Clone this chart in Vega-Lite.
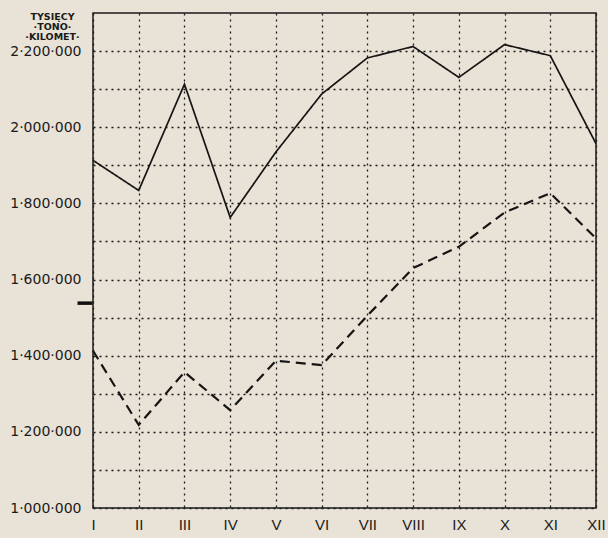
{
  "$schema": "https://vega.github.io/schema/vega-lite/v6.json",
  "width": 503,
  "height": 495,
  "autosize": "none",
  "padding": {"left": 93, "top": 13, "right": 12, "bottom": 30},
  "background": "#e9e2d6",
  "config": {
    "view": {"stroke": "#1a1a1a", "strokeWidth": 1.5},
    "font": "Liberation Sans"
  },
  "layer": [
    {
      "data": {
        "values": [
          {"month": "I", "series": "A", "value": 1913000},
          {"month": "II", "series": "A", "value": 1834000},
          {"month": "III", "series": "A", "value": 2113000},
          {"month": "IV", "series": "A", "value": 1763000},
          {"month": "V", "series": "A", "value": 1935000},
          {"month": "VI", "series": "A", "value": 2087000},
          {"month": "VII", "series": "A", "value": 2182000},
          {"month": "VIII", "series": "A", "value": 2212000},
          {"month": "IX", "series": "A", "value": 2131000},
          {"month": "X", "series": "A", "value": 2217000},
          {"month": "XI", "series": "A", "value": 2188000},
          {"month": "XII", "series": "A", "value": 1957000},
          {"month": "I", "series": "B", "value": 1413000},
          {"month": "II", "series": "B", "value": 1218000},
          {"month": "III", "series": "B", "value": 1357000},
          {"month": "IV", "series": "B", "value": 1257000},
          {"month": "V", "series": "B", "value": 1387000},
          {"month": "VI", "series": "B", "value": 1375000},
          {"month": "VII", "series": "B", "value": 1505000},
          {"month": "VIII", "series": "B", "value": 1630000},
          {"month": "IX", "series": "B", "value": 1686000},
          {"month": "X", "series": "B", "value": 1776000},
          {"month": "XI", "series": "B", "value": 1827000},
          {"month": "XII", "series": "B", "value": 1708000}
        ]
      },
      "mark": {"type": "line", "color": "#151515"},
      "encoding": {
        "x": {
          "field": "month",
          "type": "ordinal",
          "scale": {"type": "point", "padding": 0, "domain": ["I", "II", "III", "IV", "V", "VI", "VII", "VIII", "IX", "X", "XI", "XII"]},
          "axis": {
            "title": null,
            "grid": true,
            "gridDash": [2, 4],
            "gridColor": "#1a1a1a",
            "gridWidth": 1.3,
            "gridOpacity": 1,
            "domain": false,
            "ticks": false,
            "labelAngle": 0,
            "labelPadding": 9,
            "labelFontSize": 15,
            "labelColor": "#1a1a1a"
          }
        },
        "y": {
          "field": "value",
          "type": "quantitative",
          "scale": {"domain": [1000000, 2300000], "nice": false, "zero": false},
          "axis": {
            "values": [1000000, 1100000, 1200000, 1300000, 1400000, 1500000, 1600000, 1700000, 1800000, 1900000, 2000000, 2100000, 2200000],
            "labelExpr": "datum.value % 200000 === 0 ? replace(format(datum.value, ','), regexp(',', 'g'), '·') : ''",
            "grid": true,
            "gridDash": [2, 4],
            "gridColor": "#1a1a1a",
            "gridWidth": 1.3,
            "gridOpacity": 1,
            "domain": false,
            "ticks": false,
            "labelPadding": 12,
            "labelFont": "DejaVu Sans",
            "labelFontSize": 14,
            "labelColor": "#1a1a1a",
            "title": ["TYSIĘCY", "·TONO·", "·KILOMET·"],
            "titleFont": "DejaVu Sans",
            "titleAngle": 0,
            "titleX": -41,
            "titleY": -2,
            "titleAlign": "center",
            "titleBaseline": "top",
            "titleFontSize": 9.5,
            "titleFontWeight": "bold",
            "titleLineHeight": 10,
            "titleColor": "#1a1a1a"
          }
        },
        "strokeDash": {
          "field": "series",
          "type": "nominal",
          "scale": {"domain": ["A", "B"], "range": [[1, 0], [10, 6]]},
          "legend": null
        },
        "strokeWidth": {
          "field": "series",
          "type": "nominal",
          "scale": {"domain": ["A", "B"], "range": [1.7, 2.2]},
          "legend": null
        }
      }
    },
    {
      "data": {"values": [{"month": "I", "value": 1538000}]},
      "mark": {"type": "tick", "color": "#111111", "opacity": 1, "thickness": 3.5, "size": 15, "xOffset": -8},
      "encoding": {
        "x": {"field": "month", "type": "ordinal"},
        "y": {"field": "value", "type": "quantitative"}
      }
    }
  ]
}
